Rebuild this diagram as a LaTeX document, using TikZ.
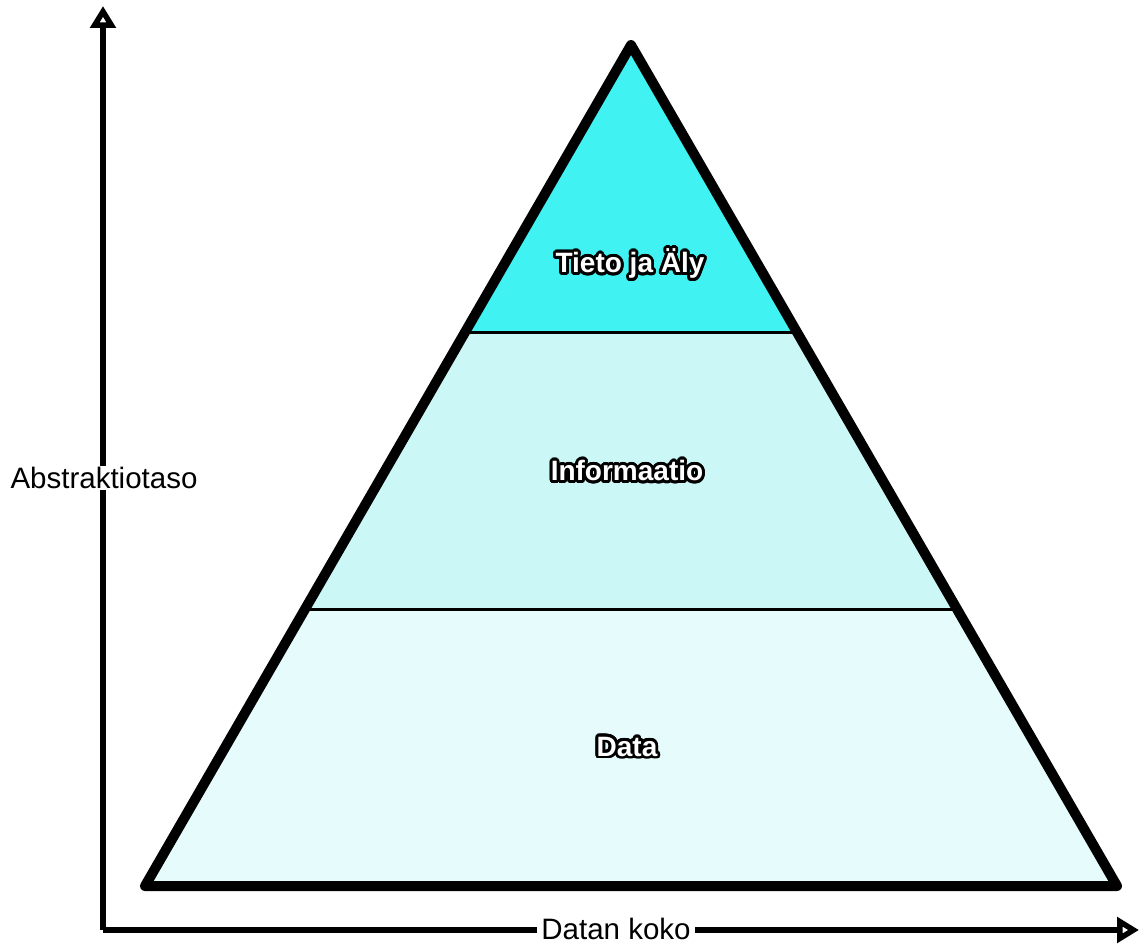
\documentclass[tikz,border=0pt]{standalone}
\usepackage{fontspec}
\setmainfont{Liberation Sans}
\usepackage[copies]{contour}
\usetikzlibrary{arrows.meta,calc}

\definecolor{topcyan}{RGB}{64,242,242}
\definecolor{midcyan}{RGB}{204,247,247}
\definecolor{lowcyan}{RGB}{230,251,252}

\contourlength{2.8pt}
\contournumber{24}

\begin{document}
\begin{tikzpicture}[
          x=1pt, y=-1pt,
          % Environment Config
          font=\fontsize{29.5}{35}\selectfont,
          AxisArrow/.style={% Style for the axes
            -{Triangle[open,length=22pt,width=25pt,line width=6pt]},
            line width=5.5pt
          },
          AxisLabel/.style={% Style for the axis names
            fill=white,
            inner xsep=4pt,
            inner ysep=1pt
          },
          LevelLabel/.style={% Style for the layer names
            text=white,
            font=\fontsize{28}{33}\selectfont\bfseries
          },
          Divider/.style={% Style for the lines between layers
            line width=3pt
          },
          Outline/.style={% Style for the pyramid border
            line width=10pt,
            line join=round,
            line cap=round
          }
        ]

        \useasboundingbox (0,0) rectangle (1142,944);

        % Corner points
        \coordinate (apex) at (631,45);
        \coordinate (bl) at (145,886);
        \coordinate (br) at (1117,886);
        \coordinate (L1) at ($(apex)!0.3413!(bl)$);
        \coordinate (R1) at ($(apex)!0.3413!(br)$);
        \coordinate (L2) at ($(apex)!0.6718!(bl)$);
        \coordinate (R2) at ($(apex)!0.6718!(br)$);

        %===Layers===
        \fill[topcyan] (apex) -- (L1) -- (R1) -- cycle;
        \fill[midcyan] (L1) -- (L2) -- (R2) -- (R1) -- cycle;
        \fill[lowcyan] (L2) -- (bl) -- (br) -- (R2) -- cycle;

        \draw[Divider] (L1) -- (R1);
        \draw[Divider] (L2) -- (R2);
        \draw[Outline] (apex) -- (bl) -- (br) -- cycle;

        %===Layer names===
        \node[LevelLabel] (wisdom) at (630,265) {\contour{black}{Tieto ja Äly}};
        \node[LevelLabel] (info) at (627,472) {\contour{black}{Informaatio}};
        \node[LevelLabel] (data) at (627,748) {\contour{black}{Data}};

        %===Axes===
        \coordinate (origin) at (103,930);
        \coordinate (ytip) at (103,6);
        \coordinate (xtip) at (1139,930);
        \draw[AxisArrow] (origin) -- (ytip);
        \draw[AxisArrow] (origin) -- (xtip);

        \node[AxisLabel] (abstr) at (104,478) {Abstraktiotaso};
        \node[AxisLabel] (size) at (616,929) {Datan koko};

\end{tikzpicture}
\end{document}
